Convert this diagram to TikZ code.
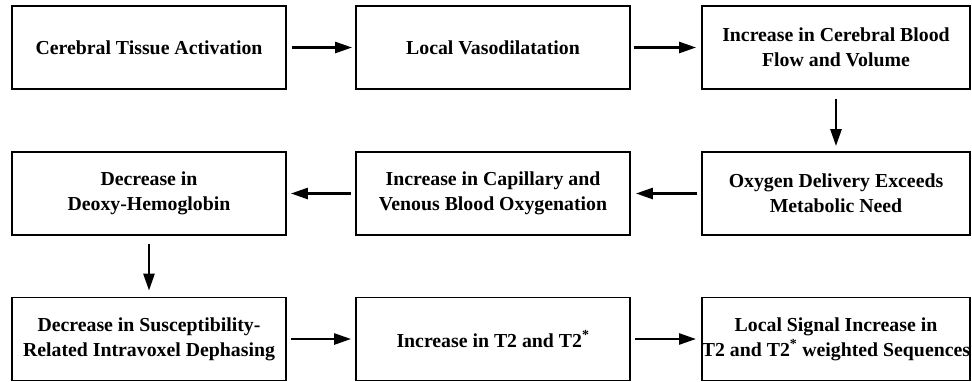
\documentclass[tikz,border=0pt]{standalone}
\usepackage{fontspec}
\setmainfont{Liberation Serif}
\usetikzlibrary{arrows.meta}

\tikzset{
  box/.style={draw, line width=1.8pt, minimum width=274pt, minimum height=83pt,
    inner sep=0pt, align=center, font=\bfseries\fontsize{19.8}{25}\selectfont},
  flow/.style={-{Triangle[length=17pt,width=11pt]}, line width=2.6pt}
}

\begin{document}
\begin{tikzpicture}[x=1pt,y=-1pt]
  \useasboundingbox (0,0) rectangle (972,381);

  %ROW 1
  \node[box] (activ) at (149,47.5) {Cerebral Tissue Activation};
  \node[box] (vaso) at (493,47.5) {Local Vasodilatation};
  \node[box, minimum width=268pt] (cbf) at (836,47.5) {Increase in Cerebral Blood\\Flow and Volume};
  %ROW 2
  \node[box] (deoxy) at (149,193.5) {Decrease in\\Deoxy-Hemoglobin};
  \node[box] (oxyg) at (493,193.5) {Increase in Capillary and\\Venous Blood Oxygenation};
  \node[box, minimum width=268pt] (deliv) at (836,193.5) {Oxygen Delivery Exceeds\\Metabolic Need};
  %ROW 3
  \node[box] (dephas) at (149,339) {Decrease in Susceptibility-\\Related Intravoxel Dephasing};
  \node[box] (tt) at (493,339) {Increase in T2 and T2\textsuperscript{*}};
  \node[box, minimum width=268pt] (signal) at (836,339) {Local Signal Increase in\\T2 and T2\textsuperscript{*} weighted Sequences};

  %ARROWS
  \draw[flow, shorten <=5pt, shorten >=3pt] (activ) -- (vaso);
  \draw[flow, shorten <=3pt, shorten >=5pt] (vaso) -- (cbf);
  \draw[flow, shorten <=9pt, shorten >=5pt] (cbf) -- (deliv);
  \draw[flow, shorten <=4pt, shorten >=5pt] (deliv) -- (oxyg);
  \draw[flow, shorten <=4pt, shorten >=4pt] (oxyg) -- (deoxy);
  \draw[flow, shorten <=8pt, shorten >=6pt] (deoxy) -- (dephas);
  \draw[flow, shorten <=4pt, shorten >=4pt] (dephas) -- (tt);
  \draw[flow, shorten <=4pt, shorten >=5pt] (tt) -- (signal);
\end{tikzpicture}
\end{document}
